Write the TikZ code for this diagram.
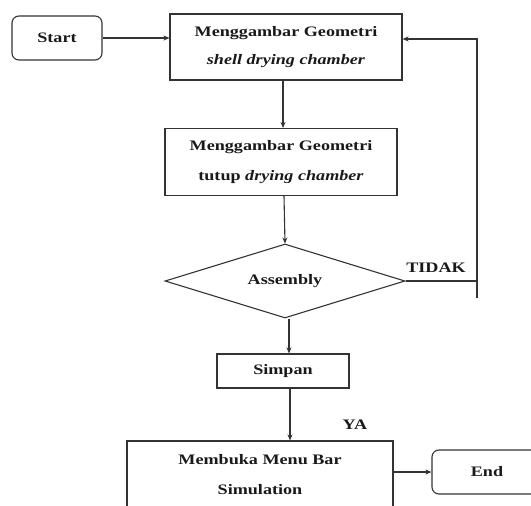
\documentclass[tikz,border=0pt]{standalone}
\usepackage{fontspec}
\setmainfont{Liberation Serif}[FakeStretch=1.25]
\usetikzlibrary{arrows.meta,shapes.geometric}
\tikzset{
  box/.style={draw=black!80, line width=1.1pt, align=center, inner sep=0pt,
    font=\fontsize{14.5}{30}\selectfont\bfseries, text=black!90},
  term/.style={box, rounded corners=7pt},
  decide/.style={box, diamond, aspect=3.2, minimum width=240pt, minimum height=74pt},
  lbl/.style={font=\fontsize{14.5}{16}\selectfont\bfseries, text=black!90},
  flow/.style={draw=black!80, line width=1.1pt, -{Stealth[length=6pt,width=5pt]}},
  wire/.style={draw=black!80, line width=1.1pt}
}
\begin{document}
\begin{tikzpicture}[x=1pt, y=-1pt]
		%%%%% START %%%%%
		\useasboundingbox (0,0) rectangle (531,506);
		\clip (0,0) rectangle (531,506);
		
		\node[term, minimum width=90pt, minimum height=44pt] (start) at (57,38) {Start};
		\node[box, minimum width=232pt, minimum height=66pt] (geoshell) at (286,47)
			{Menggambar Geometri\\[-2pt]\textit{shell drying chamber}};
		\node[box, minimum width=232pt, minimum height=67pt] (geotutup) at (281,162)
			{Menggambar Geometri\\tutup \textit{drying chamber}};
		\node[decide] (assembly) at (285,281) {Assembly};
		\node[box, minimum width=132pt, minimum height=34pt] (simpan) at (283,371) {Simpan};
		\node[box, minimum width=266pt, minimum height=68pt] (membuka) at (260,475)
			{Membuka Menu Bar\\Simulation};
		\node[term, minimum width=110pt, minimum height=44pt] (end) at (487,472) {End};
		
		\node[lbl] (tidak) at (436,268) {TIDAK};
		\node[lbl] (ya) at (355,425) {YA};
		
		\coordinate (looptop) at (477,39);
		\coordinate (looplow) at (477,298);
		
		\draw[flow] (start.east) -- (start.east -| geoshell.west);
		\draw[flow] (geoshell.south -| 283,0) -- (283,0 |- geotutup.north);
		\draw[flow] (geotutup.south -| 284,0) -- (assembly.north);
		\draw[flow] (assembly.south -| 289,0) -- (289,0 |- simpan.north);
		\draw[flow] (simpan.south -| 290,0) -- (290,0 |- membuka.north);
		\draw[flow] (membuka.east |- end.west) -- (end.west);
		
		\draw[wire] (assembly.east) -- (assembly.east -| looplow);
		\draw[flow] (looplow) -- (looptop) -- (looptop -| geoshell.east);
		
		%%%%% END %%%%%
	\end{tikzpicture}
\end{document}
